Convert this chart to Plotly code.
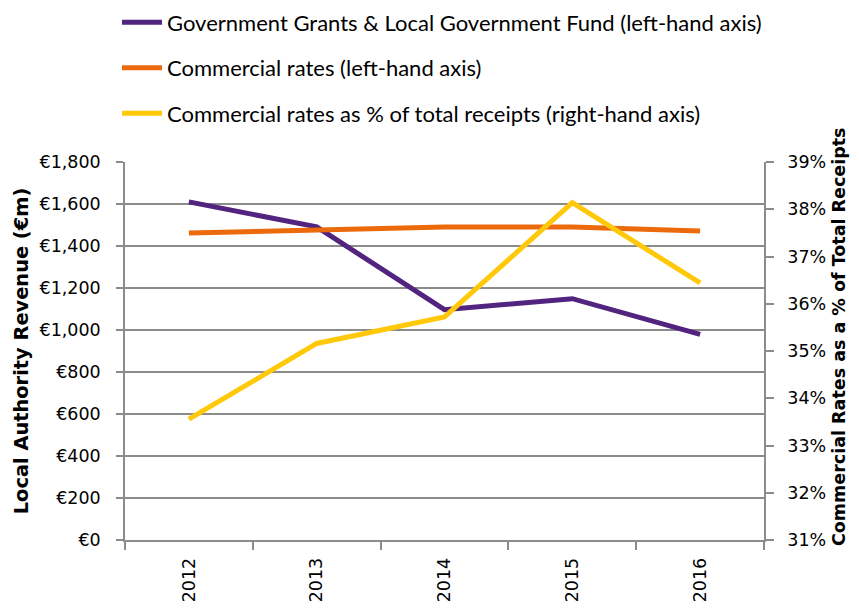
import plotly.graph_objects as go

years = ["2012", "2013", "2014", "2015", "2016"]
grants = [1610, 1491, 1097, 1149, 979]
rates = [1462, 1475, 1491, 1491, 1471]
rates_pct = [0.3356, 0.3516, 0.3572, 0.3814, 0.3644]

names = [
    "Government Grants & Local Government Fund (left-hand axis)",
    "Commercial rates (left-hand axis)",
    "Commercial rates as % of total receipts (right-hand axis)",
]
colors = ["#52237F", "#EB6A0C", "#FFC809"]
right_title = "Commercial Rates as a % of Total Receipts"

fig = go.Figure()
fig.add_trace(go.Scatter(x=years, y=grants, name=names[0], mode="lines",
                         line=dict(color=colors[0], width=5), legendgroup="a"))
fig.add_trace(go.Scatter(x=years, y=rates, name=names[1], mode="lines",
                         line=dict(color=colors[1], width=5), legendgroup="b"))
fig.add_trace(go.Scatter(x=years, y=rates_pct, name=names[2], mode="lines",
                         line=dict(color=colors[2], width=5), legendgroup="c",
                         yaxis="y2"))

tick_font = dict(family="DejaVu Sans", size=17.5, color="#000000")
title_font = dict(family="DejaVu Sans", size=19.4, color="#000000")
rtitle_font = dict(family="DejaVu Sans", size=17.5, color="#000000")
grid_col = "#8C8C8C"

# page body has an 8px margin on each side; keep the figure inside the
# window so no scrollbars appear
fig.update_layout(
    width=843, height=594,
    margin=dict(l=117, r=87, t=154, b=62, autoexpand=False),
    paper_bgcolor="white", plot_bgcolor="white",
    showlegend=True,
    legend=dict(
        x=-0.0125, y=1.425, xanchor="left", yanchor="top",
        font=dict(family="Lato", size=22, color="#000000"),
        tracegroupgap=14, itemwidth=40, bgcolor="rgba(0,0,0,0)",
    ),
    xaxis=dict(
        type="category", range=[-0.5, 4.5], automargin=False,
        showline=True, linecolor=grid_col, linewidth=1.5,
        ticks="outside", ticklen=8, tickcolor=grid_col, tickwidth=1.5,
        tickson="boundaries", tickangle=-90, tickfont=tick_font,
        ticklabelstandoff=9, showgrid=False,
    ),
    yaxis=dict(
        range=[0, 1800], dtick=200, tickprefix="€", tickformat=",",
        automargin=False,
        showline=True, linecolor=grid_col, linewidth=1.5,
        ticks="outside", ticklen=7, tickcolor=grid_col, tickwidth=1.5,
        showgrid=True, gridcolor=grid_col, gridwidth=1.5,
        zeroline=False, tickfont=tick_font, ticklabelstandoff=12,
        title=dict(text="<b>Local Authority Revenue (€m)</b>", font=title_font, standoff=6),
    ),
    yaxis2=dict(
        overlaying="y", side="right", automargin=False,
        range=[0.31, 0.39], dtick=0.01, tickformat=".0%",
        showline=True, linecolor=grid_col, linewidth=1.5,
        ticks="outside", ticklen=8, tickcolor=grid_col, tickwidth=1.5,
        showgrid=False, zeroline=False, tickfont=tick_font, ticklabelstandoff=10,
    ),
    annotations=[dict(
        text="<b>" + right_title + "</b>", textangle=-90,
        xref="paper", yref="paper", x=(839 - 125) / 639, y=(540 - 337) / 378,
        xanchor="center", yanchor="middle", showarrow=False, font=rtitle_font,
    )],
)

fig.write_html("out.html")
